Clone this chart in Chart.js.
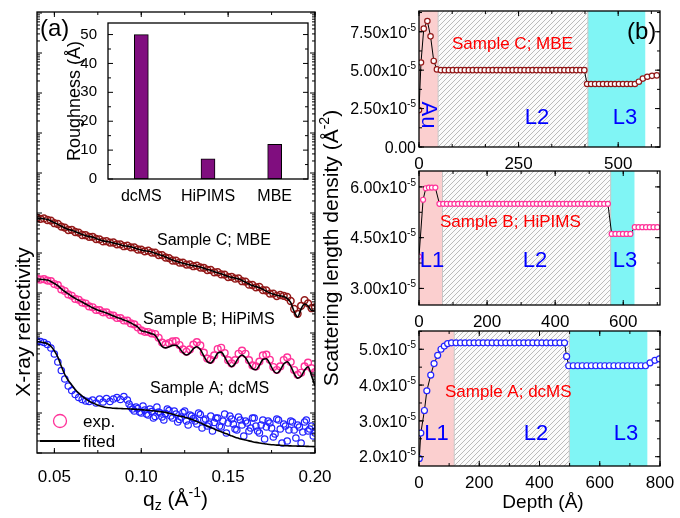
<!DOCTYPE html>
<html>
<head>
<meta charset="utf-8">
<title>XRR and SLD profiles</title>
<script src="https://cdn.jsdelivr.net/npm/chart.js@4.4.1/dist/chart.umd.min.js"></script>
<style>
  body { margin: 0; background: #fff; }
  #fig { position: relative; width: 680px; height: 518px; overflow: hidden; }
  #fig canvas { position: absolute; left: 0; top: 0; }
</style>
</head>
<body>
<div id="fig">
  <canvas id="xrrChart" width="680" height="518"></canvas>
  <canvas id="roughChart" width="680" height="518"></canvas>
  <canvas id="sldTop" width="680" height="518"></canvas>
  <canvas id="sldMid" width="680" height="518"></canvas>
  <canvas id="sldBot" width="680" height="518"></canvas>
</div>
<script>
// Panel (a): reflectivity, log10 scale with offsets between samples (arb. units)
const qz = [0.040,0.042,0.044,0.046,0.048,0.050,0.052,0.054,0.056,0.058,
  0.060,0.062,0.064,0.066,0.068,0.070,0.072,0.074,0.076,0.078,
  0.080,0.082,0.084,0.086,0.088,0.090,0.092,0.094,0.096,0.098,
  0.100,0.102,0.104,0.106,0.108,0.110,0.112,0.114,0.116,0.118,
  0.120,0.122,0.124,0.126,0.128,0.130,0.132,0.134,0.136,0.138,
  0.140,0.142,0.144,0.146,0.148,0.150,0.152,0.154,0.156,0.158,
  0.160,0.162,0.164,0.166,0.168,0.170,0.172,0.174,0.176,0.178,
  0.180,0.182,0.184,0.186,0.188,0.190,0.192,0.194,0.196,0.198,0.200];

// Sample C; MBE
const fitC = [5.868,5.865,5.855,5.835,5.800,5.755,5.715,5.670,5.625,5.588,
  5.568,5.535,5.500,5.460,5.433,5.415,5.395,5.363,5.330,5.303,
  5.285,5.273,5.250,5.230,5.205,5.183,5.170,5.155,5.128,5.100,
  5.073,5.055,5.045,5.025,4.995,4.963,4.935,4.900,4.860,4.825,
  4.795,4.770,4.745,4.723,4.700,4.683,4.670,4.650,4.618,4.590,
  4.563,4.533,4.505,4.480,4.445,4.415,4.390,4.373,4.350,4.313,
  4.268,4.225,4.185,4.160,4.133,4.090,4.045,4.003,3.968,3.943,
  3.928,3.910,3.868,3.763,3.538,3.400,3.600,3.725,3.675,3.563,3.550];
const expC = [5.880,5.855,5.865,5.825,5.810,5.745,5.725,5.660,5.635,5.575,
  5.580,5.525,5.510,5.450,5.445,5.405,5.405,5.350,5.340,5.290,
  5.295,5.260,5.262,5.218,5.215,5.170,5.182,5.142,5.140,5.088,
  5.085,5.043,5.057,5.012,5.007,4.950,4.947,4.888,4.872,4.812,
  4.807,4.758,4.757,4.710,4.712,4.670,4.682,4.638,4.630,4.575,
  4.578,4.518,4.520,4.465,4.460,4.398,4.405,4.358,4.365,4.295,
  4.285,4.208,4.200,4.143,4.150,4.072,4.062,3.985,3.985,3.925,
  3.950,3.930,3.900,3.800,3.600,3.480,3.680,3.820,3.740,3.620,3.640];

// Sample B; HiPIMS
const fitB = [4.350,4.345,4.335,4.323,4.288,4.238,4.183,4.103,4.038,3.978,
  3.918,3.865,3.818,3.773,3.725,3.678,3.630,3.590,3.558,3.530,
  3.503,3.463,3.423,3.388,3.360,3.325,3.295,3.253,3.203,3.150,
  3.058,3.035,3.010,2.983,2.945,2.808,2.663,2.628,2.655,2.690,
  2.695,2.618,2.508,2.450,2.498,2.608,2.658,2.588,2.428,2.285,
  2.248,2.350,2.498,2.523,2.405,2.240,2.158,2.233,2.383,2.450,
  2.380,2.233,2.108,2.080,2.193,2.338,2.355,2.233,2.065,1.993,
  2.073,2.223,2.280,2.173,1.985,1.873,1.920,2.070,2.158,1.930,1.675];
const expB = [4.362,4.335,4.345,4.310,4.298,4.225,4.195,4.090,4.050,3.965,
  3.930,3.852,3.830,3.760,3.738,3.665,3.643,3.578,3.570,3.518,
  3.515,3.450,3.435,3.375,3.372,3.312,3.307,3.240,3.215,3.138,
  3.065,3.030,3.025,2.990,2.975,2.880,2.760,2.715,2.745,2.790,
  2.795,2.700,2.590,2.530,2.590,2.710,2.770,2.690,2.510,2.360,
  2.330,2.440,2.600,2.630,2.500,2.320,2.240,2.320,2.480,2.560,
  2.480,2.320,2.190,2.165,2.285,2.440,2.460,2.330,2.150,2.075,
  2.165,2.325,2.390,2.275,2.075,1.955,2.005,2.165,2.260,2.120,2.020];

// Sample A; dcMS
const fitA = [2.783,2.773,2.760,2.730,2.670,2.553,2.395,2.168,1.963,1.813,
  1.703,1.588,1.495,1.423,1.358,1.298,1.253,1.215,1.180,1.155,
  1.138,1.130,1.120,1.115,1.113,1.108,1.105,1.100,1.093,1.088,
  1.083,1.075,1.068,1.058,1.050,1.038,1.028,1.015,0.993,0.968,
  0.945,0.925,0.905,0.880,0.853,0.823,0.790,0.753,0.713,0.675,
  0.638,0.600,0.565,0.530,0.495,0.463,0.428,0.395,0.368,0.343,
  0.323,0.303,0.283,0.265,0.250,0.238,0.223,0.213,0.205,0.198,
  0.193,0.185,0.180,0.178,0.175,0.173,0.170,0.168,0.165,0.163,0.158];
const expA = [2.800,2.788,2.763,2.713,2.625,2.475,2.275,2.063,1.850,1.675,
  1.563,1.463,1.388,1.338,1.300,1.288,1.325,1.250,1.350,1.275,
  1.363,1.288,1.350,1.388,1.338,1.413,1.325,1.150,1.050,1.113,
  1.000,1.075,0.950,1.038,0.913,1.025,0.900,0.988,1.063,0.875,
  0.975,0.838,1.013,0.800,0.950,0.863,0.725,0.963,0.825,0.675,
  0.925,0.763,0.875,0.650,0.975,0.750,0.850,0.600,0.900,0.700,
  0.800,0.550,0.875,0.675,0.500,0.825,0.650,0.750,0.400,0.850,
  0.600,0.725,0.300,0.800,0.575,0.700,0.250,0.775,0.550,0.675,0.500];
const qzA2 = [0.093,0.095,0.097,0.099,0.101,0.103,0.105,0.107,0.109,0.111,
  0.113,0.115,0.117,0.119,0.121,0.123,0.125,0.127,0.129,0.131,
  0.133,0.135,0.137,0.139,0.141,0.143,0.145,0.147,0.149,0.151,
  0.153,0.155,0.157,0.159,0.161,0.163,0.165,0.167,0.169,0.171,
  0.173,0.175,0.177,0.179,0.181,0.183,0.185,0.187,0.189,0.191,
  0.193,0.195,0.197,0.199];
const expA2 = [1.225,1.100,1.150,1.025,1.175,0.975,1.100,0.875,1.150,1.000,
  0.825,1.100,0.925,1.050,0.775,0.900,1.050,0.700,0.925,0.800,
  1.000,0.625,0.850,0.725,0.550,0.875,0.675,0.800,0.500,0.925,
  0.725,0.575,0.825,0.425,0.750,0.625,0.875,0.550,0.700,0.350,
  0.800,0.625,0.475,0.825,0.250,0.675,0.575,0.775,0.375,0.650,
  0.525,0.825,0.600,0.425];
const qzTicks = [0.05, 0.10, 0.15, 0.20];

// Inset: interface roughness
const methods = ["dcMS", "HiPIMS", "MBE"];
const roughness = [50, 7, 12];
const roughTicks = [0, 10, 20, 30, 40, 50];

// Panel (b): SLD profiles, values in units of 1e-5 A^-2
const depthC = [0,5,12,21,29,37,45,
  55,65,75,85,95,105,115,125,135,145,155,165,175,185,195,205,215,225,235,245,
  255,265,275,285,295,305,315,325,335,345,355,365,375,385,395,405,415,
  422,432,442,452,462,472,482,492,502,512,522,532,542,
  552,562,573,585,597];
const sldC = [2.4,5.5,7.7,8.2,7.2,5.6,5.05,
  5.0,5.0,5.0,5.0,5.0,5.0,5.0,5.0,5.0,5.0,5.0,5.0,5.0,5.0,5.0,5.0,5.0,5.0,5.0,5.0,
  5.0,5.0,5.0,5.0,5.0,5.0,5.0,5.0,5.0,5.0,5.0,5.0,5.0,5.0,5.0,5.0,5.0,
  4.1,4.1,4.1,4.1,4.1,4.1,4.1,4.1,4.1,4.1,4.1,4.1,4.1,
  4.25,4.45,4.57,4.63,4.66];
const layersC = [0, 48, 424, 568];

const depthB = [0,12,20,29,38,48,
  60,71,82,93,104,115,126,137,148,159,170,181,192,203,214,225,236,247,258,269,
  280,291,302,313,324,335,346,357,368,379,390,401,412,423,434,445,456,467,478,489,
  500,511,522,533,544,555,
  566,577,588,599,610,621,
  634,645,656,667,678,689,700];
const sldB = [3.94,5.62,5.96,5.98,5.98,5.98,
  5.5,5.5,5.5,5.5,5.5,5.5,5.5,5.5,5.5,5.5,5.5,5.5,5.5,5.5,5.5,5.5,5.5,5.5,5.5,5.5,
  5.5,5.5,5.5,5.5,5.5,5.5,5.5,5.5,5.5,5.5,5.5,5.5,5.5,5.5,5.5,5.5,5.5,5.5,5.5,5.5,
  5.5,5.5,5.5,5.5,5.5,5.5,
  4.61,4.61,4.61,4.61,4.61,4.61,
  4.81,4.81,4.81,4.81,4.81,4.81,4.81];
const layersB = [0, 69, 563, 633];

const depthA = [1,6,18,26,39,50,62,73,84,95,
  108,123,138,153,168,183,198,213,228,243,258,273,288,303,318,333,348,363,378,393,
  408,423,438,453,468,483,
  490,
  497,512,527,542,557,572,587,602,617,632,647,662,677,692,707,722,737,752,
  767,783,798];
const sldA = [1.95,2.66,3.29,3.84,4.28,4.60,4.83,5.0,5.09,5.16,
  5.18,5.18,5.18,5.18,5.18,5.18,5.18,5.18,5.18,5.18,5.18,5.18,5.18,5.18,5.18,5.18,5.18,5.18,5.18,5.18,
  5.18,5.18,5.18,5.18,5.18,5.18,
  4.8,
  4.54,4.54,4.54,4.54,4.54,4.54,4.54,4.54,4.54,4.54,4.54,4.54,4.54,4.54,4.54,4.54,4.54,4.54,
  4.62,4.69,4.73];
const layersA = [0, 117, 499, 758];

const depthTicksC = [0, 250, 500];
const depthTicksB = [0, 200, 400, 600];
const depthTicksA = [0, 200, 400, 600, 800];
const sldTicksC = [0, 2.5, 5, 7.5];
const sldTicksB = [3, 4.5, 6];
const sldTicksA = [2, 3, 4, 5];

// ---------------------------------------------------------------
const FONT = '"Liberation Sans", Arial, Helvetica, sans-serif';
const RED_C = "#931818", PINK_B = "#ff3399", BLUE_A = "#2222ff";
Chart.defaults.font.family = FONT;
Chart.defaults.color = "#000";
Chart.defaults.animation = false;
Chart.defaults.responsive = false;
Chart.defaults.events = [];
Chart.defaults.plugins.legend.display = false;
Chart.defaults.plugins.tooltip.enabled = false;

const pts = (xs, ys) => xs.map((x, i) => ({ x: x, y: ys[i] }));
const steps = (start, step, max) => { const out = []; for (let v = start; v <= max + 1e-9; v += step) out.push(v); return out; };

// box = fixed size of the scale strip (labels are clipped to it)
function axis(min, max, vals, show, size, pad, cb, box) {
  const t = { display: show, autoSkip: false, maxRotation: 0, padding: pad, color: "#000", font: { size: size, lineHeight: 1 } };
  if (cb) t.callback = cb;
  return {
    type: "linear", min: min, max: max, offset: false,
    afterBuildTicks: s => { s.ticks = vals.map(v => ({ value: v })); },
    afterFit: s => { if (s.isHorizontal()) s.height = box || 0; else s.width = box || 0; },
    grid: { display: false }, border: { display: false },
    ticks: t
  };
}

// text with optional super/subscript parts: [text, size, dy]
function drawNote(ctx, n) {
  ctx.save();
  ctx.translate(n.x, n.y);
  if (n.rot) ctx.rotate(n.rot);
  ctx.fillStyle = n.color || "#000";
  ctx.textAlign = "left";
  ctx.textBaseline = "alphabetic";
  const parts = n.parts || [[n.t, n.size, 0]];
  let w = 0;
  parts.forEach(p => { ctx.font = p[1] + "px " + FONT; w += ctx.measureText(p[0]).width; });
  let cx = n.align === "right" ? -w : n.align === "left" ? 0 : -w / 2;
  const base = n.base !== undefined ? n.base : parts[0][1] * 0.36;
  parts.forEach(p => {
    ctx.font = p[1] + "px " + FONT;
    ctx.fillText(p[0], cx, base + p[2]);
    cx += ctx.measureText(p[0]).width;
  });
  ctx.restore();
}

const extras = {};

const layerPlugin = {
  id: "layers",
  beforeDatasetsDraw(chart) {
    const e = extras[chart.canvas.id];
    if (!e || !e.layers) return;
    const ctx = chart.ctx, a = chart.chartArea, x = chart.scales.x;
    const b = e.layers.map(v => x.getPixelForValue(v));
    const h = a.bottom - a.top;
    const tile = document.createElement("canvas");
    tile.width = 5; tile.height = 5;
    const g = tile.getContext("2d");
    g.fillStyle = "#fbfbfb"; g.fillRect(0, 0, 5, 5);
    g.strokeStyle = "#b3b3b3"; g.lineWidth = 0.9;
    g.beginPath();
    g.moveTo(0, 5); g.lineTo(5, 0);
    g.moveTo(-1, 1); g.lineTo(1, -1);
    g.moveTo(4, 6); g.lineTo(6, 4);
    g.stroke();
    ctx.save();
    ctx.fillStyle = "#fbcfcf";
    ctx.fillRect(b[0], a.top, b[1] - b[0], h);
    ctx.fillStyle = ctx.createPattern(tile, "repeat");
    ctx.fillRect(b[1], a.top, b[2] - b[1], h);
    ctx.fillStyle = "#80f5f5";
    ctx.fillRect(b[2], a.top, b[3] - b[2], h);
    ctx.strokeStyle = "#c8c8c8"; ctx.lineWidth = 1;
    ctx.beginPath();
    ctx.moveTo(b[1], a.top); ctx.lineTo(b[1], a.bottom);
    ctx.moveTo(b[2], a.top); ctx.lineTo(b[2], a.bottom);
    ctx.stroke();
    ctx.restore();
  }
};

const framePlugin = {
  id: "frame",
  afterDatasetsDraw(chart) {
    const e = extras[chart.canvas.id];
    if (!e) return;
    const ctx = chart.ctx, a = chart.chartArea, x = chart.scales.x, y = chart.scales.y;
    ctx.save();
    ctx.strokeStyle = "#000";
    ctx.lineWidth = 1;
    ctx.beginPath();
    const tx = (vals, len) => (vals || []).forEach(v => {
      const p = x.getPixelForValue(v);
      if (p < a.left - 0.5 || p > a.right + 0.5) return;
      ctx.moveTo(p, a.bottom); ctx.lineTo(p, a.bottom - len);
      ctx.moveTo(p, a.top); ctx.lineTo(p, a.top + len);
    });
    const ty = (vals, len) => (vals || []).forEach(v => {
      const p = y.getPixelForValue(v);
      if (p < a.top - 0.5 || p > a.bottom + 0.5) return;
      ctx.moveTo(a.left, p); ctx.lineTo(a.left + len, p);
      ctx.moveTo(a.right, p); ctx.lineTo(a.right - len, p);
    });
    tx(e.xMajor, 5); tx(e.xMinor, 3);
    ty(e.yMajor, 5); ty(e.yMinor, 3);
    ctx.stroke();
    ctx.lineWidth = 1.3;
    ctx.strokeRect(a.left, a.top, a.right - a.left, a.bottom - a.top);
    ctx.restore();
    if (e.yLabel) {
      e.yMajor.forEach(v => drawNote(ctx, { parts: e.yLabel(v), x: a.left - 3, y: y.getPixelForValue(v), align: "right" }));
    }
  }
};

const notesPlugin = {
  id: "notes",
  afterDraw(chart) {
    const e = extras[chart.canvas.id];
    if (!e) return;
    const ctx = chart.ctx;
    (e.shapes || []).forEach(s => {
      ctx.save();
      ctx.strokeStyle = s.color; ctx.lineWidth = s.width;
      ctx.beginPath();
      if (s.type === "circle") ctx.arc(s.x, s.y, s.r, 0, Math.PI * 2);
      else { ctx.moveTo(s.x1, s.y1); ctx.lineTo(s.x2, s.y2); }
      ctx.stroke();
      ctx.restore();
    });
    (e.notes || []).forEach(n => drawNote(ctx, n));
  }
};

Chart.register(layerPlugin, framePlugin, notesPlugin);

// ---------------- panel (a) -----------------
const logMinor = [];
for (let n = 0; n < 12; n++) for (let k = 2; k < 10; k++) logMinor.push(n + Math.log10(k));

extras.xrrChart = {
  xMajor: qzTicks, xMinor: steps(0.025, 0.025, 0.2),
  yMajor: steps(0, 1, 11), yMinor: logMinor,
  shapes: [
    { type: "circle", x: 60, y: 421, r: 6.5, color: PINK_B, width: 1.3 },
    { type: "line", x1: 40, y1: 441, x2: 80, y2: 441, color: "#000", width: 2 }
  ],
  notes: [
    { t: "(a)", x: 40, y: 27, size: 24, align: "left" },
    { t: "Sample C; MBE", x: 157, y: 239, size: 16, align: "left" },
    { t: "Sample B; HiPiMS", x: 143, y: 318, size: 16, align: "left" },
    { t: "Sample A; dcMS", x: 150, y: 387, size: 16, align: "left" },
    { t: "exp.", x: 83, y: 421, size: 17, align: "left" },
    { t: "fited", x: 83, y: 441, size: 17, align: "left" },
    { t: "X-ray reflectivity", x: 22, y: 322, size: 21, rot: -Math.PI / 2 },
    { parts: [["q", 21, 0], ["z", 14, 4], [" (\u00c5", 21, 0], ["-1", 14, -9], [")", 21, 0]], x: 143, y: 506, base: 0, align: "left" },
    { parts: [["Scattering length density (\u00c5", 21, 0], ["-2", 14, -9], [")", 21, 0]], x: 330, y: 248, rot: -Math.PI / 2 },
    { t: "Depth (\u00c5)", x: 543, y: 508, size: 19, base: 0 }
  ]
};

const expStyle = (color, r, w) => ({ showLine: false, pointRadius: r, pointBorderWidth: w, pointBorderColor: color, pointBackgroundColor: "rgba(0,0,0,0)", order: 1 });
const fitStyle = { showLine: true, pointRadius: 0, borderColor: "#000", borderWidth: 1.6, cubicInterpolationMode: "monotone", order: 0 };

new Chart(document.getElementById("xrrChart"), {
  type: "scatter",
  data: {
    datasets: [
      Object.assign({ label: "Sample C exp.", data: pts(qz, expC) }, expStyle(RED_C, 3.4, 1.5)),
      Object.assign({ label: "Sample C fit", data: pts(qz, fitC) }, fitStyle),
      Object.assign({ label: "Sample B exp.", data: pts(qz, expB) }, expStyle(PINK_B, 3.4, 1.4)),
      Object.assign({ label: "Sample B fit", data: pts(qz, fitB) }, fitStyle),
      Object.assign({ label: "Sample A exp.", data: pts(qz, expA).concat(pts(qzA2, expA2)) }, expStyle(BLUE_A, 3.2, 1.2)),
      Object.assign({ label: "Sample A fit", data: pts(qz, fitA) }, fitStyle)
    ]
  },
  options: {
    layout: { padding: { left: 37, top: 12, right: 365, bottom: 35 } },
    scales: {
      x: axis(0.04, 0.20, qzTicks, true, 17, 8, v => v.toFixed(2), 30),
      y: axis(0, 11.025, [], false, 12, 0, null, 0)
    }
  }
});

// ---------------- inset -----------------
extras.roughChart = {
  yMajor: roughTicks, yMinor: steps(5, 10, 50),
  notes: [{ t: "Roughness (\u00c5)", x: 74, y: 101, size: 18, rot: -Math.PI / 2 }]
};

new Chart(document.getElementById("roughChart"), {
  type: "bar",
  data: {
    labels: methods,
    datasets: [{
      label: "Roughness",
      data: roughness,
      backgroundColor: "#800e7f",
      borderColor: "#000",
      borderWidth: 1,
      borderSkipped: false,
      barThickness: 14
    }]
  },
  options: {
    layout: { padding: { left: 78, top: 23, right: 372, bottom: 309 } },
    scales: {
      x: {
        type: "category", offset: true,
        afterFit: s => { s.height = 30; },
        grid: { display: false }, border: { display: false },
        ticks: { autoSkip: false, maxRotation: 0, padding: 2, color: "#000", font: { size: 16, lineHeight: 1 } }
      },
      y: axis(0, 54, roughTicks, true, 15, 3, v => String(v), 30)
    }
  }
});

// ---------------- panel (b) -----------------
const supLabel = digits => v => v === 0 ? [["0.00", 16, 0]] : [[v.toFixed(digits) + "x10", 16, 0], ["-5", 10, -7]];

function sldChart(id, o) {
  extras[id] = {
    layers: o.layers,
    xMajor: o.xTicks, xMinor: steps(0, o.xMinor, o.xMax),
    yMajor: o.yTicks, yMinor: steps(o.yMinorStart, o.yMinor, o.yMax),
    yLabel: supLabel(o.digits),
    notes: o.notes
  };
  new Chart(document.getElementById(id), {
    type: "scatter",
    data: {
      datasets: [{
        label: o.label,
        data: pts(o.depth, o.sld),
        showLine: true,
        borderColor: "#000",
        borderWidth: 1,
        pointRadius: o.r,
        pointBorderWidth: 1.2,
        pointBorderColor: o.color,
        pointBackgroundColor: "#fff"
      }]
    },
    options: {
      layout: { padding: { left: 419, top: o.top, right: 20, bottom: 518 - o.bottom - 22 } },
      scales: {
        x: axis(0, o.xMax, o.xTicks, true, 17, 1, v => String(v), 22),
        y: axis(o.yMin, o.yMax, o.yTicks, false, 16, 0, null, 0)
      }
    }
  });
}

const RED = "#ff0000", BLUE = "#0000ff";

sldChart("sldTop", {
  label: "Sample C; MBE", depth: depthC, sld: sldC, color: RED_C, r: 2.7, layers: layersC,
  top: 11, bottom: 147, xMax: 605, xTicks: depthTicksC, xMinor: 250 / 3,
  yMin: 0, yMax: 8.85, yTicks: sldTicksC, yMinorStart: 0, yMinor: 1.25, digits: 2,
  notes: [
    { t: "Sample C; MBE", x: 452, y: 43, size: 17, color: RED, align: "left" },
    { t: "Au", x: 429.5, y: 115, size: 22, color: BLUE, rot: Math.PI / 2 },
    { t: "L2", x: 537, y: 116, size: 22, color: BLUE },
    { t: "L3", x: 625, y: 116, size: 22, color: BLUE },
    { t: "(b)", x: 627, y: 30, size: 24, align: "left" }
  ]
});

sldChart("sldMid", {
  label: "Sample B; HiPIMS", depth: depthB, sld: sldB, color: PINK_B, r: 2.5, layers: layersB,
  top: 171, bottom: 305, xMax: 708, xTicks: depthTicksB, xMinor: 100,
  yMin: 2.51, yMax: 6.47, yTicks: sldTicksB, yMinorStart: 2.25, yMinor: 0.75, digits: 2,
  notes: [
    { t: "Sample B; HiPIMS", x: 440, y: 221, size: 17, color: RED, align: "left" },
    { t: "L1", x: 432, y: 259, size: 22, color: BLUE },
    { t: "L2", x: 535, y: 259, size: 22, color: BLUE },
    { t: "L3", x: 625, y: 259, size: 22, color: BLUE }
  ]
});

sldChart("sldBot", {
  label: "Sample A; dcMS", depth: depthA, sld: sldA, color: BLUE_A, r: 3, layers: layersA,
  top: 331, bottom: 466, xMax: 800, xTicks: depthTicksA, xMinor: 100,
  yMin: 1.74, yMax: 5.51, yTicks: sldTicksA, yMinorStart: 1.5, yMinor: 0.5, digits: 1,
  notes: [
    { t: "Sample A; dcMS", x: 445, y: 391, size: 17, color: RED, align: "left" },
    { t: "L1", x: 436.5, y: 432, size: 22, color: BLUE },
    { t: "L2", x: 536, y: 432, size: 22, color: BLUE },
    { t: "L3", x: 626, y: 432, size: 22, color: BLUE }
  ]
});
</script>
</body>
</html>
